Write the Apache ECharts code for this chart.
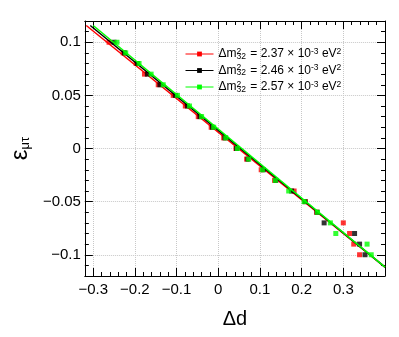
<!DOCTYPE html>
<html><head><meta charset="utf-8">
<script src="https://cdn.jsdelivr.net/npm/echarts@6/dist/echarts.min.js"></script>
<style>html,body{margin:0;padding:0;background:#fff}#c{width:399px;height:337px}</style>
</head><body><div id="c"></div>
<script>
// epsilon_{mu tau} values (y) shared by all three series
const epsValues = [0.1,0.09,0.08,0.07,0.06,0.05,0.04,0.03,0.02,0.01,0,-0.01,-0.02,-0.03,-0.04,-0.05,-0.06,-0.07,-0.08,-0.09,-0.1];
// Delta d values (x) for each series
const dRed   = [-0.262,-0.228,-0.197,-0.177,-0.144,-0.108,-0.079,-0.048,-0.017,0.013,0.0425,0.068,0.103,0.135,0.182,0.209,0.236,0.300,0.315,0.325,0.339];
const dBlack = [-0.250,-0.225,-0.194,-0.170,-0.140,-0.103,-0.074,-0.044,-0.014,0.016,0.044,0.071,0.108,0.138,0.176,0.208,0.237,0.254,0.327,0.339,0.352];
const dGreen = [-0.243,-0.222,-0.190,-0.161,-0.132,-0.098,-0.069,-0.040,-0.011,0.018,0.046,0.073,0.106,0.137,0.169,0.206,0.238,0.269,0.282,0.357,0.367];
const massValues = ['2.37','2.46','2.57'];
const seriesColors = ['#ff0000','#000000','#00ff00'];
// linear fits: eps = intercept + slope * d, drawn over [xmin, xmax]
const fitSlope = [-0.3172,-0.3216,-0.3248];
const fitIntercept = [0.0153,0.0170,0.0183];
const fitXmin = [-0.3166,-0.307,-0.300];
const fitXmax = [0.4,0.4,0.4];

const pointSets = [dRed, dBlack, dGreen];
const FONT = 'Liberation Sans, Arial, Helvetica, sans-serif';
const fmt = v => { const n = Number(v.toFixed(4)); return (n < 0 ? '\u2212' : '') + Math.abs(n); };

const series = [];
const legendNames = [];
massValues.forEach((m, i) => {
  const name = 'm' + m;
  legendNames.push(name);
  const f = x => fitIntercept[i] + fitSlope[i] * x;
  series.push({
    name: name, type: 'line', xAxisIndex: 0, yAxisIndex: 0,
    data: [[fitXmin[i], f(fitXmin[i])], [fitXmax[i], f(fitXmax[i])]],
    symbol: 'rect', symbolSize: 4, showSymbol: false,
    lineStyle: { color: seriesColors[i], width: 1.5 },
    itemStyle: { color: seriesColors[i] },
    clip: true, silent: true, animation: false, z: 3 + i
  });
  series.push({
    name: name + 'pts', type: 'scatter', xAxisIndex: 0, yAxisIndex: 0,
    data: pointSets[i].map((x, k) => [x, epsValues[k]]),
    symbol: 'rect', symbolSize: 5,
    itemStyle: { color: seriesColors[i] },
    silent: true, animation: false, z: 3 + i
  });
});

const axisCommon = {
  type: 'value',
  axisLine: { show: true, onZero: false, lineStyle: { color: '#000', width: 1 } },
  axisTick: { show: true, inside: true, length: 8, lineStyle: { color: '#000' } },
  minorTick: { show: true, splitNumber: 5, length: 4, lineStyle: { color: '#000' } },
};

const option = {
  animation: false,
  backgroundColor: '#fff',
  grid: { left: 56, right: 14, top: 21, bottom: 61, containLabel: false },
  xAxis: [
    Object.assign({}, axisCommon, {
      position: 'bottom', min: -0.32, max: 0.4, splitNumber: 7,
      axisLabel: { show: true, showMinLabel: false, showMaxLabel: false, margin: 6, color: '#000', fontSize: 15, fontFamily: FONT, formatter: fmt },
      splitLine: { show: true, lineStyle: { color: '#c8c8c8', type: 'dotted', width: 1 } },
      name: '\u0394d', nameLocation: 'middle', nameGap: 33,
      nameTextStyle: { fontSize: 20, fontFamily: FONT, color: '#000' }
    }),
    Object.assign({}, axisCommon, {
      position: 'top', min: -0.32, max: 0.4, splitNumber: 7,
      axisLabel: { show: false }, splitLine: { show: false }
    })
  ],
  yAxis: [
    Object.assign({}, axisCommon, {
      position: 'left', min: -0.12, max: 0.12, splitNumber: 5,
      axisLabel: { show: true, showMinLabel: false, showMaxLabel: false, margin: 4, color: '#000', fontSize: 15, fontFamily: FONT, formatter: fmt },
      splitLine: { show: true, lineStyle: { color: '#c8c8c8', type: 'dotted', width: 1 } },
      name: '{e|\u03b5}{s|\u03bc\u03c4}', nameLocation: 'middle', nameGap: 33, nameRotate: 90,
      nameTextStyle: { fontFamily: FONT, color: '#000',
        rich: { e: { fontSize: 24, fontFamily: FONT, color: '#000' },
                s: { fontSize: 13, fontFamily: FONT, color: '#000', verticalAlign: 'bottom', padding: [10, 0, 0, 0] } } }
    }),
    Object.assign({}, axisCommon, {
      position: 'right', min: -0.12, max: 0.12, splitNumber: 5,
      axisLabel: { show: false }, splitLine: { show: false }
    })
  ],
  legend: {
    show: true, orient: 'vertical', left: 185, top: 47,
    itemWidth: 28, itemHeight: 6, itemGap: 2.5, padding: 0,
    data: legendNames, selectedMode: false,
    lineStyle: { width: 1 },
    formatter: name => {
      const m = name.slice(1);
      return 'Δm{sp0|2}{sb|32} = ' + m + ' × 10{sp|-3} eV{sp|2}';
    },
    textStyle: {
      fontSize: 12, fontFamily: FONT, color: '#000', lineHeight: 14,
      rich: {
        sp0: { fontSize: 8.5, fontFamily: FONT, color: '#000', width: 0, verticalAlign: 'top', lineHeight: 14 },
        sb: { fontSize: 8.5, fontFamily: FONT, color: '#000', verticalAlign: 'bottom', lineHeight: 14, padding: [0, 1, 0, 0] },
        sp: { fontSize: 8.5, fontFamily: FONT, color: '#000', verticalAlign: 'top', lineHeight: 14 }
      }
    }
  },
  series: series
};

const chart = echarts.init(document.getElementById('c'), null, { renderer: 'canvas' });
chart.setOption(option);
</script>
</body></html>
